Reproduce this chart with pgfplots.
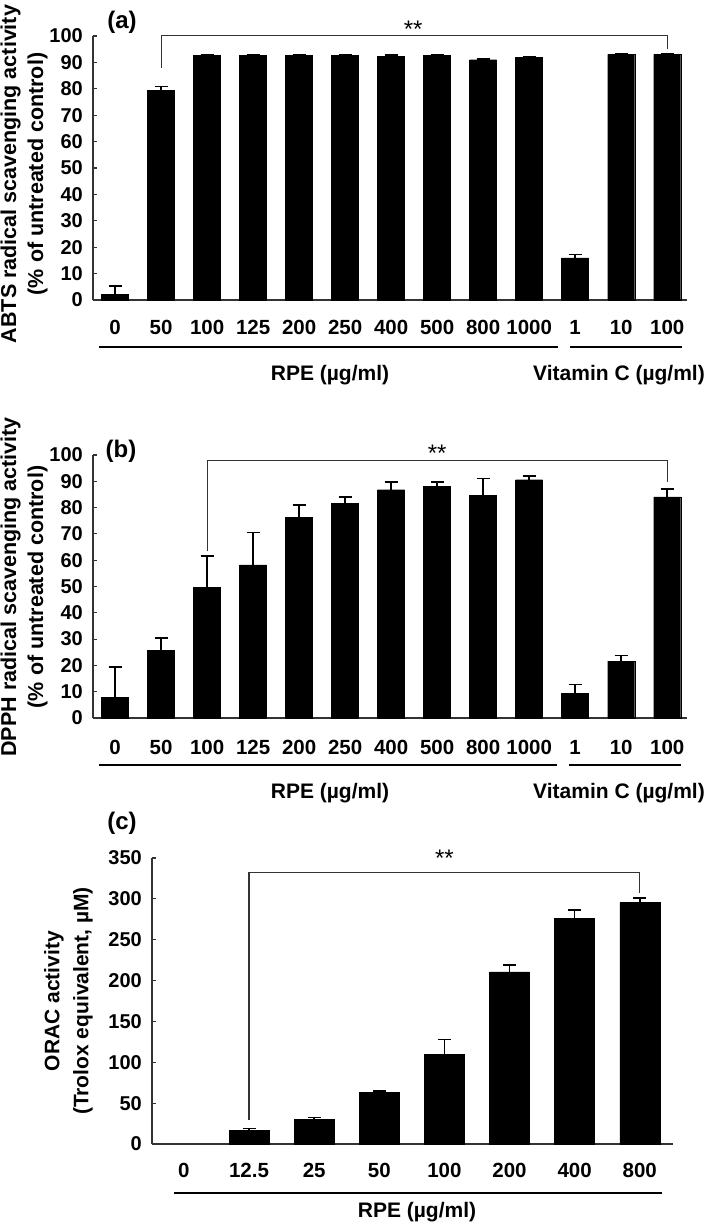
\documentclass[border=0pt]{standalone}
\usepackage{fontspec}
\setmainfont{Liberation Sans}
\usepackage{pgfplots}
\pgfplotsset{compat=1.18}
\usepackage{pgfplotstable}

\pgfplotstableread{
x y e
0 2.2 3.0
1 79.3 1.5
2 92.7 0.3
3 92.7 0.3
4 92.7 0.3
5 92.7 0.3
6 92.4 0.4
7 92.6 0.4
8 91.0 0.3
9 91.9 0.3
10 16.0 1.3
11 93.0 0.3
12 93.0 0.3
}\tableA

\pgfplotstableread{
x y e
0 7.9 11.4
1 25.7 4.8
2 49.8 11.7
3 58.2 12.3
4 76.3 4.8
5 81.5 2.6
6 86.8 3.0
7 88.1 1.7
8 84.7 6.3
9 90.6 1.3
10 9.3 3.4
11 21.6 2.2
12 84.1 3.0
}\tableB

\pgfplotstableread{
x y e
1 16.9 2.0
2 30.4 2.0
3 63.5 1.5
4 109.7 18.4
5 210.5 8.6
6 276.3 10.2
7 295.5 5.3
}\tableC

\pgfplotsset{
  mybar/.style={
    scale only axis, anchor=south west, clip=false,
    axis lines=left,
    axis line style={-, line width=1.3pt, draw=black!80},
    ybar, ymin=0,
    tick align=inside, major tick length=4pt,
    ytick style={line width=1.1pt, draw=black!80},
    xtick style={draw=none},
    /pgf/number format/assume math mode=true,
    yticklabel style={font=\fontsize{20}{20}\selectfont\bfseries, inner sep=0pt, xshift=-10pt},
    xticklabel style={font=\fontsize{20.5}{20.5}\selectfont\bfseries, inner sep=0pt},
  },
  mybars/.style={
    fill=black, draw=black,
    error bars/.cd, y dir=plus, y explicit,
    error bar style={line width=1.6pt, black},
    error mark options={rotate=90, line width=1.6pt, mark size=6.5pt, black},
  },
}

\begin{document}
\begin{tikzpicture}[x=1pt,y=1pt]
\useasboundingbox (0pt,0pt) rectangle (709pt,1224pt);

% ---------------- panel (a)
\begin{axis}[mybar, at={(93pt,924pt)}, width=594pt, height=264pt,
  xmin=-0.48, xmax=12.43, ymax=100, ytick={0,10,...,100},
  bar width=27pt,
  xtick={0,...,12},
  xticklabels={0,50,100,125,200,250,400,500,800,1000,1,10,100},
  xticklabel style={yshift=-20pt}]
\addplot[mybars] table[x=x, y=y, y error=e] {\tableA};
\draw[line width=1.1pt, black!80] (axis cs:1,88) |- (axis cs:12,100.3) -- (axis cs:12,95);
\node[font=\fontsize{24}{24}\selectfont] at (axis cs:6.48,102.5) {**};
\end{axis}

% ---------------- panel (b)
\begin{axis}[mybar, at={(93pt,506pt)}, width=594pt, height=263pt,
  xmin=-0.48, xmax=12.43, ymax=100, ytick={0,10,...,100},
  bar width=27pt,
  xtick={0,...,12},
  xticklabels={0,50,100,125,200,250,400,500,800,1000,1,10,100},
  xticklabel style={yshift=-22pt}]
\addplot[mybars] table[x=x, y=y, y error=e] {\tableB};
\draw[line width=1.1pt, black!80] (axis cs:2,63.4) |- (axis cs:12,98) -- (axis cs:12,89.8);
\node[font=\fontsize{24}{24}\selectfont] at (axis cs:7.0,100.5) {**};
\end{axis}

% ---------------- panel (c)
\begin{axis}[mybar, at={(152pt,80pt)}, width=521pt, height=286pt,
  xmin=-0.49, xmax=7.51, ymax=350, ytick={0,50,...,350},
  bar width=40pt,
  xtick={0,...,7},
  xticklabels={0,12.5,25,50,100,200,400,800},
  xticklabel style={yshift=-19pt}]
\addplot[mybars] table[x=x, y=y, y error=e] {\tableC};
\draw[line width=1.1pt, black!80] (axis cs:1,29) |- (axis cs:7,332.2) -- (axis cs:7,307);
\node[font=\fontsize{24}{24}\selectfont] at (axis cs:4.0,350) {**};
\end{axis}

% y labels
\node[rotate=90, align=center, font=\fontsize{21.5}{27}\selectfont\bfseries] at (24pt,1050pt)
  {ABTS radical scavenging activity\\(\% of untreated control)};
\node[rotate=90, align=center, font=\fontsize{21.5}{27}\selectfont\bfseries] at (24pt,637pt)
  {DPPH radical scavenging activity\\(\% of untreated control)};
\node[rotate=90, align=center, font=\fontsize{21}{29}\selectfont\bfseries] at (68.5pt,223pt)
  {ORAC activity\\(Trolox equivalent, µM)};

% panel letters
\node[font=\fontsize{24}{24}\selectfont\bfseries] at (122pt,1202pt) {(a)};
\node[font=\fontsize{24}{24}\selectfont\bfseries] at (121pt,773pt) {(b)};
\node[font=\fontsize{24}{24}\selectfont\bfseries] at (122pt,401pt) {(c)};

% group lines and labels
\draw[line width=2.5pt] (99pt,877pt) -- (558pt,877pt);
\draw[line width=2.5pt] (570pt,877pt) -- (682pt,877pt);
\node[font=\fontsize{21}{21}\selectfont\bfseries] at (330pt,849pt) {RPE (µg/ml)};
\node[font=\fontsize{21}{21}\selectfont\bfseries] at (619pt,849pt) {Vitamin C (µg/ml)};

\draw[line width=2.5pt] (99pt,459pt) -- (557pt,459pt);
\draw[line width=2.5pt] (569pt,459pt) -- (681pt,459pt);
\node[font=\fontsize{21}{21}\selectfont\bfseries] at (330pt,431pt) {RPE (µg/ml)};
\node[font=\fontsize{21}{21}\selectfont\bfseries] at (619pt,431pt) {Vitamin C (µg/ml)};

\draw[line width=2.5pt] (174pt,31pt) -- (662pt,31pt);
\node[font=\fontsize{21}{21}\selectfont\bfseries] at (417pt,12pt) {RPE (µg/ml)};
\end{tikzpicture}
\end{document}
